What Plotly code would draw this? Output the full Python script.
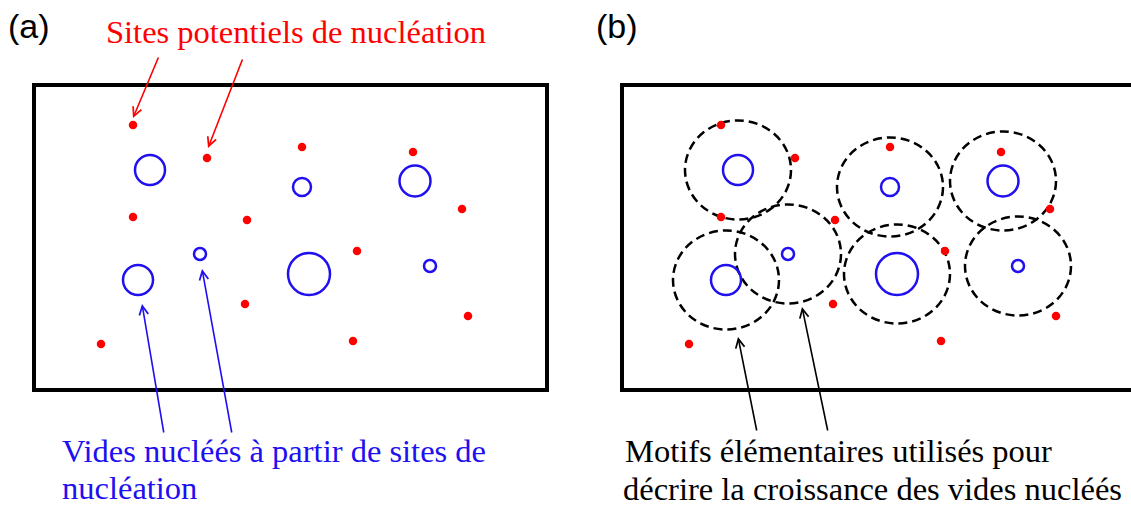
import plotly.graph_objects as go

W, H = 1131, 507

# panel (a) nucleation sites (red dots), pixel coords
site_x = [133, 207, 302, 413, 133, 247, 462, 357, 245, 468, 101, 353]
site_y = [125, 158, 147, 152, 217, 220, 209, 251, 304, 316, 344, 341]

# nucleated voids (blue circles)
void_x = [150, 302, 415, 200, 138, 309, 430]
void_y = [170, 187, 181, 254, 280, 274, 266]
void_r = [15, 9, 15.5, 6, 15, 21, 6]

# panel (b) is panel (a) shifted right
shift_b = 588
# elementary motifs (dashed) around each void in (b)
motif_rx = 53
motif_ry = 49.5

# arrows: (tail_x, tail_y, tip_x, tip_y)
red_arrows = [(159, 56, 133, 118), (243, 58, 208, 148)]
blue_arrows = [(164, 434, 142, 304), (232, 434, 202, 269)]
black_arrows = [(757, 432, 738, 337), (828, 432, 802, 307)]

RED = "#ff0000"
BLUE = "#2010f0"
SERIF = "Liberation Serif, Times New Roman, serif"
SANS = "Liberation Sans, Arial, sans-serif"

fig = go.Figure()

# red dots for both panels
fig.add_trace(go.Scatter(
    x=site_x + [x + shift_b for x in site_x], y=site_y + site_y,
    mode="markers", marker=dict(color=RED, size=8.5, line_width=0),
    hoverinfo="skip", showlegend=False))

shapes = []
# frames
shapes.append(dict(type="rect", x0=34, x1=547, y0=85, y1=390,
                   line=dict(color="black", width=4)))
shapes.append(dict(type="rect", x0=34 + shift_b, x1=547 + shift_b, y0=85, y1=390,
                   line=dict(color="black", width=4)))

for cx, cy, r in zip(void_x, void_y, void_r):
    for dx in (0, shift_b):
        shapes.append(dict(type="circle", x0=cx + dx - r, x1=cx + dx + r,
                           y0=cy - r, y1=cy + r, line=dict(color=BLUE, width=2.5)))
    # dashed motif in (b)
    shapes.append(dict(type="circle", x0=cx + shift_b - motif_rx, x1=cx + shift_b + motif_rx,
                       y0=cy - motif_ry, y1=cy + motif_ry,
                       line=dict(color="black", width=2.5, dash="9px,5px")))

for s in shapes:
    s.update(xref="x", yref="y", layer="below")

ann = []
def arrow(a, color):
    tx, ty, hx, hy = a
    return dict(x=hx, y=hy, ax=tx, ay=ty, xref="x", yref="y", axref="x", ayref="y",
                text="", showarrow=True, arrowhead=5, arrowsize=1.1, arrowwidth=1.6,
                arrowcolor=color, standoff=0)

for a in red_arrows:
    ann.append(arrow(a, RED))
for a in blue_arrows:
    ann.append(arrow(a, BLUE))
for a in black_arrows:
    ann.append(arrow(a, "black"))

def label(x, y, text, color, font, size, anchor="left"):
    return dict(x=x, y=y, xref="x", yref="y", text=text, showarrow=False,
                xanchor=anchor, yanchor="middle",
                font=dict(family=font, size=size, color=color))

ann.append(label(6, 26, "(a)", "black", SANS, 34))
ann.append(label(594, 26, "(b)", "black", SANS, 34))
ann.append(label(296, 32, "Sites potentiels de nucléation", RED, SERIF, 32.5, "center"))
ann.append(label(60, 451, "Vides nucléés à partir de sites de", BLUE, SERIF, 32.5))
ann.append(label(60, 488, "nucléation", BLUE, SERIF, 32.5))
ann.append(label(623, 451, "Motifs élémentaires utilisés pour", "black", SERIF, 32.5))
ann.append(label(621, 489, "décrire la croissance des vides nucléés", "black", SERIF, 32.5))

fig.update_layout(
    width=W, height=H, margin=dict(l=0, r=0, t=0, b=0),
    plot_bgcolor="white", paper_bgcolor="white",
    shapes=shapes, annotations=ann, showlegend=False,
    xaxis=dict(range=[0, W], visible=False, fixedrange=True),
    yaxis=dict(range=[H, 0], visible=False, fixedrange=True),
)

fig.write_html("out.html", config={"displayModeBar": False},
               post_script="document.body.style.margin='0';")
